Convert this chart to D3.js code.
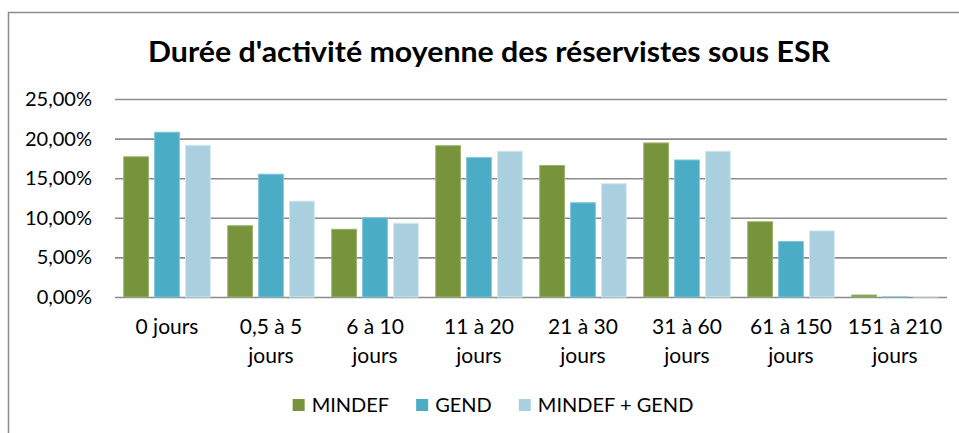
<!DOCTYPE html>
<html>
<head>
<meta charset="utf-8">
<script src="https://cdn.jsdelivr.net/npm/d3@7"></script>
<style>
  body { margin: 0; background: #fff; }
  text { font-family: Lato, "Open Sans", sans-serif; fill: #000; }
</style>
</head>
<body>
<script>
var width = 959,
    height = 433;

var title = "Durée d'activité moyenne des réservistes sous ESR";
var categories = ['0 jours', '0,5 à 5 jours', '6 à 10 jours', '11 à 20 jours',
                  '21 à 30 jours', '31 à 60 jours', '61 à 150 jours', '151 à 210 jours'];
var seriesNames = ['MINDEF', 'GEND', 'MINDEF + GEND'];
var mindef = [0.177, 0.090, 0.0855, 0.191, 0.166, 0.1945, 0.095, 0.0025];
var gend = [0.208, 0.155, 0.100, 0.176, 0.119, 0.173, 0.070, 0.0001];
var mindefGend = [0.1915, 0.121, 0.093, 0.184, 0.143, 0.184, 0.0835, 0.0001];
var yTicks = [0, 0.05, 0.10, 0.15, 0.20, 0.25];

var colors = ['#77933c', '#4bacc6', '#aacfde'];
var edges = ['#9ab46a', '#7cc4d8', '#d2e7ef'];

var fr = d3.formatLocale({decimal: ',', thousands: ' ', grouping: [3], currency: ['', ' €']});
var pct = fr.format('.2%');

var svg = d3.select('body')
  .append('svg')
  .attr('width', width)
  .attr('height', height);

// chart frame (cut off on the right and bottom)
svg.append('rect')
  .attr('x', 8.5)
  .attr('y', 12.5)
  .attr('width', 980)
  .attr('height', 440)
  .attr('fill', 'none')
  .attr('stroke', '#8c8c8c')
  .attr('stroke-width', 1.5);

svg.append('text')
  .attr('x', 489)
  .attr('y', 62)
  .attr('text-anchor', 'middle')
  .attr('textLength', 682)
  .attr('lengthAdjust', 'spacingAndGlyphs')
  .style('font-size', '28px')
  .style('font-weight', 'bold')
  .text(title);

var x0 = d3.scaleBand()
  .domain(categories)
  .range([115, 947])
  .paddingInner(0.168)
  .paddingOuter(0.084);

var x1 = d3.scaleBand()
  .domain(seriesNames)
  .range([0, x0.bandwidth()])
  .paddingInner(0.2);

var y = d3.scaleLinear()
  .domain([0, 0.25])
  .range([297, 99]);

// grid
var yAxis = d3.axisLeft(y)
  .tickValues(yTicks)
  .tickSize(-(947 - 115))
  .tickPadding(23)
  .tickFormat(pct);

var gy = svg.append('g')
  .attr('transform', 'translate(115,0)')
  .call(yAxis);
gy.select('.domain').remove();
gy.selectAll('.tick line')
  .attr('stroke', '#8c8c8c')
  .attr('stroke-width', 1.6);
gy.selectAll('.tick text')
  .style('font-size', '20px')
  .attr('fill', '#000');

var rows = categories.map(function(c, i) {
  return {cat: c, values: [mindef[i], gend[i], mindefGend[i]]};
});

var groups = svg.append('g').selectAll('g')
  .data(rows)
  .enter()
  .append('g')
  .attr('transform', function(d) { return 'translate(' + x0(d.cat) + ',0)'; });

groups.selectAll('rect')
  .data(function(d) { return d.values.map(function(v, j) { return {name: seriesNames[j], v: v, j: j}; }); })
  .enter()
  .append('rect')
  .attr('x', function(d) { return x1(d.name); })
  .attr('y', function(d) { return y(d.v); })
  .attr('width', x1.bandwidth())
  .attr('height', function(d) { return y(0) - y(d.v); })
  .attr('fill', function(d) { return colors[d.j]; })
  .attr('stroke', function(d) { return edges[d.j]; })
  .attr('stroke-width', 1);

// category labels, wrapped before "jours" when needed
var xl = svg.append('g').selectAll('text')
  .data(categories)
  .enter()
  .append('text')
  .attr('text-anchor', 'middle')
  .style('font-size', '21px')
  .attr('transform', function(d) { return 'translate(' + (x0(d) + x0.bandwidth() / 2) + ',334)'; });

xl.each(function(d) {
  var lines = d.indexOf(' à ') >= 0 ? [d.replace(/ jours$/, ''), 'jours'] : [d];
  d3.select(this).selectAll('tspan')
    .data(lines)
    .enter()
    .append('tspan')
    .attr('x', 0)
    .attr('y', function(l, i) { return i * 29; })
    .text(function(l) { return l; });
});

// legend
var legend = svg.append('g');
var lx = 0;
seriesNames.forEach(function(name, i) {
  var item = legend.append('g').attr('transform', 'translate(' + lx + ',0)');
  item.append('rect')
    .attr('x', 0)
    .attr('y', -6)
    .attr('width', 12)
    .attr('height', 12)
    .attr('fill', colors[i]);
  var t = item.append('text')
    .attr('x', 19)
    .attr('y', 7)
    .style('font-size', '20px')
    .text(name);
  lx += 19 + t.node().getComputedTextLength() + 27;
});
lx -= 27;
legend.attr('transform', 'translate(' + (493 - lx / 2) + ',405)');
</script>
</body>
</html>
